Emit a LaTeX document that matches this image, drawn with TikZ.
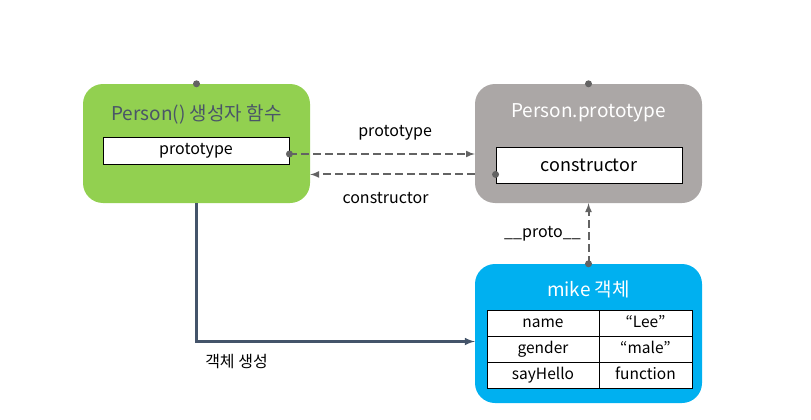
\documentclass[tikz,border=0pt]{standalone}
\usepackage{fontspec}
\setmainfont{Noto Sans CJK KR}
\usetikzlibrary{matrix,positioning,arrows}
\definecolor{fngreen}{HTML}{92D050}
\definecolor{protogray}{HTML}{ABA7A6}
\definecolor{mikeblue}{HTML}{00B0F0}
\definecolor{titleslate}{HTML}{4A5568}
\definecolor{linkgray}{HTML}{636363}
\definecolor{flowslate}{HTML}{44546A}

\begin{document}
\begin{tikzpicture}[x=1pt,y=-1pt,
		card/.style={
			rounded corners=20pt,
			draw=none,
			minimum width=227pt,
			minimum height=119pt,
			inner sep=0pt
		},
		cardtitle/.style={
			font=\fontsize{19}{22}\selectfont,
			inner sep=0pt
		},
		slot/.style={
			draw=black,
			fill=white,
			line width=0.9pt,
			font=\fontsize{16}{19}\selectfont,
			inner sep=0pt
		},
		props/.style={
			matrix of nodes,
			nodes={
				draw=black,
				fill=white,
				line width=0.9pt,
				minimum height=26pt,
				text height=11pt,
				text depth=3pt,
				inner sep=0pt,
				font=\fontsize{15.5}{18}\selectfont
			},
			column 1/.style={nodes={minimum width=112pt}},
			column 2/.style={nodes={minimum width=93pt}},
			column sep=-0.9pt,
			row sep=-0.9pt
		},
		link/.style={
			linkgray,
			line width=2pt,
			dash pattern=on 8pt off 4pt
		},
		pin/.style={
			circle,
			fill=linkgray,
			inner sep=0pt,
			minimum size=7pt
		},
		lbl/.style={
			font=\fontsize{16}{19}\selectfont,
			text=black,
			inner sep=0pt
		},
		>=latex
		]
		\useasboundingbox (0,0) rectangle (811,420);
		% boxes
		\node[card, fill=fngreen] (pfn) at (196.5,143.5) {};
		\node[card, fill=protogray] (proto) at (588.5,143.5) {};
		\node[card, fill=mikeblue, minimum height=139pt] (mike) at (588.5,333.5) {};
		% titles
		\node[cardtitle, text=titleslate] (pfntitle) at (196.5,114) {Person() 생성자 함수};
		\node[cardtitle, text=white] (prototitle) at (588.5,113) {Person.prototype};
		\node[cardtitle, text=white] (miketitle) at (588.5,289) {mike 객체};
		% slots
		\node[slot, minimum width=186pt, minimum height=27pt] (pslot) at (196,150.5) {prototype};
		\node[slot, minimum width=186pt, minimum height=36pt, font=\fontsize{18}{21}\selectfont] (cslot) at (589,165) {constructor};
		\matrix[props] (tab) at (589.5,349)
		{
			name & “Lee” \\
			gender & “male” \\
			sayHello & function \\
		};
		% pins
		\node[pin] (pfntop) at (pfn.north) {};
		\node[pin] (prototop) at (proto.north) {};
		\node[pin] (miketop) at (mike.north) {};
		\node[pin] (pout) at ([yshift=-3.5pt]pslot.east) {};
		\node[pin] (cout) at ([yshift=9pt]cslot.south west) {};
		% links
		\draw[link, ->] (pout.center) -- node[lbl, midway, xshift=13pt, yshift=21pt] {prototype} (pout.center -| proto.west);
		\draw[link, ->] (cout.center -| proto.west) -- node[lbl, midway, xshift=-7pt, yshift=-24pt] {constructor} (cout.center -| pfn.east);
		\draw[link, ->] (miketop.center) -- node[lbl, midway, xshift=-46pt] {\_\_proto\_\_} (proto.south);
		\draw[flowslate, line width=2.4pt, ->] (pfn.south) |- node[lbl, pos=0.5, xshift=40pt, yshift=-20pt] {객체 생성} ([yshift=-8pt]mike.west);
		\end{tikzpicture}
\end{document}
